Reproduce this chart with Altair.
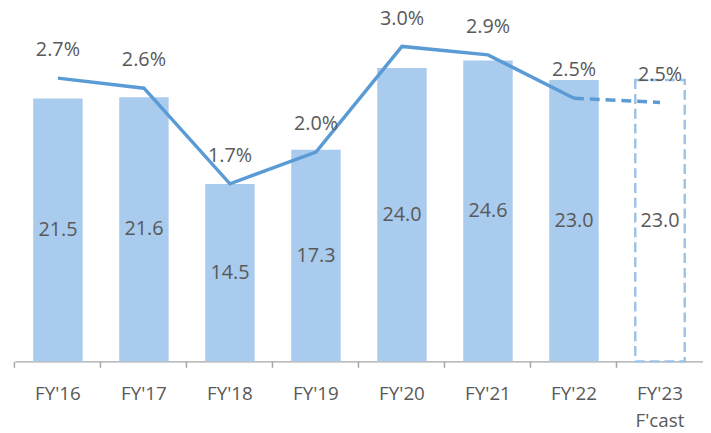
import altair as alt
import pandas as pd

categories = ["FY'16", "FY'17", "FY'18", "FY'19", "FY'20", "FY'21", "FY'22", "FY'23 F'cast"]
bar_values = [21.5, 21.6, 14.5, 17.3, 24.0, 24.6, 23.0, 23.0]
bar_labels = ["21.5", "21.6", "14.5", "17.3", "24.0", "24.6", "23.0", "23.0"]
pct_values = [2.68, 2.585, 1.68, 1.98, 2.98, 2.90, 2.49, 2.45]
pct_labels = ["2.7%", "2.6%", "1.7%", "2.0%", "3.0%", "2.9%", "2.5%", "2.5%"]
forecast = [False, False, False, False, False, False, False, True]

df = pd.DataFrame({
    "cat": categories,
    "bar": bar_values,
    "half": [v / 2 for v in bar_values],
    "blabel": bar_labels,
    "pct": pct_values,
    "plabel": pct_labels,
    "fc": forecast,
})
df_actual = df[~df["fc"]]
df_fc = df[df["fc"]]
df_dash = df.iloc[6:8]

FONT = "Open Sans"
TXT = "#595959"
BAR = "#A9CBED"
LINE = "#5B9BD5"

xenc = alt.X(
    "cat:N",
    sort=categories,
    scale=alt.Scale(paddingInner=0.425, paddingOuter=0.2125),
    axis=alt.Axis(
        title=None,
        labelExpr="split(datum.label, ' ')",
        labelFont=FONT,
        labelFontSize=19,
        labelColor=TXT,
        labelLineHeight=27,
        labelPadding=18,
        labelAngle=0,
        bandPosition=-0.37,
        tickSize=6,
        tickColor="#A6A6A6",
        tickWidth=1.5,
        domainColor="#A6A6A6",
        domainWidth=1.5,
        grid=False,
    ),
)

ybar = alt.Scale(domain=[0, 27.89], nice=False, zero=True)
yline = alt.Scale(domain=[0, 3.227], nice=False, zero=True)

bars = alt.Chart(df_actual).mark_bar(color=BAR).encode(
    x=xenc, y=alt.Y("bar:Q", scale=ybar, axis=None)
)
fcbar = alt.Chart(df_fc).mark_bar(
    fill="white", fillOpacity=0, stroke="#9DC3E6", strokeWidth=2.5, strokeDash=[10, 5]
).encode(x=alt.X("cat:N", sort=categories), y=alt.Y("bar:Q", scale=ybar, axis=None))
blabels = alt.Chart(df).mark_text(
    font=FONT, fontSize=20, color=TXT, baseline="middle"
).encode(
    x=alt.X("cat:N", sort=categories),
    y=alt.Y("half:Q", scale=ybar, axis=None),
    text="blabel:N",
)

line = alt.Chart(df_actual).mark_line(color=LINE, strokeWidth=3.5).encode(
    x=alt.X("cat:N", sort=categories), y=alt.Y("pct:Q", scale=yline, axis=None)
)
dline = alt.Chart(df_dash).mark_line(color=LINE, strokeWidth=3.5, strokeDash=[10, 6]).encode(
    x=alt.X("cat:N", sort=categories), y=alt.Y("pct:Q", scale=yline, axis=None)
)
plabels = alt.Chart(df).mark_text(
    font=FONT, fontSize=20, color=TXT, baseline="middle", dy=-28
).encode(
    x=alt.X("cat:N", sort=categories),
    y=alt.Y("pct:Q", scale=yline, axis=None),
    text="plabel:N",
)

chart = (
    alt.layer(bars, fcbar, blabels, line, dline, plabels)
    .resolve_scale(y="independent")
    .properties(
        width=696,
        height=345,
        padding={"left": 7, "top": 10, "right": 0, "bottom": 70},
        autosize=alt.AutoSizeParams(type="none"),
    )
    .configure_view(strokeWidth=0)
)

chart.save("out.html", embed_options={"renderer": "svg", "actions": False})
